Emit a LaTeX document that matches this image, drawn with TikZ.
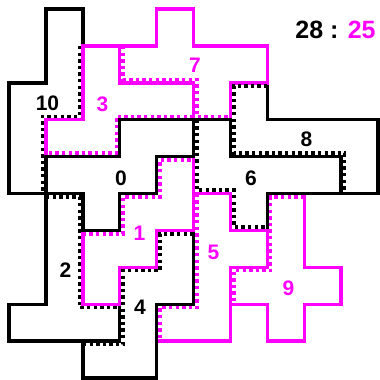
\documentclass[tikz,border=0pt]{standalone}
\usepackage{fontspec}
\setmainfont{Liberation Sans}
\definecolor{mag}{RGB}{255,0,255}
\tikzset{
  solidK/.style={draw=black, line width=3.4pt, line join=miter},
  solidM/.style={draw=mag, line width=3.4pt, line join=miter},
  dotK/.style={draw=black, line width=3.6pt, dash pattern=on 3.4pt off 3.2pt},
  dotM/.style={draw=mag, line width=3.6pt, dash pattern=on 3.4pt off 3.2pt},
  lbl/.style={font=\bfseries\fontsize{21}{21}\selectfont, inner sep=0pt},
  lblK/.style={lbl, text=black},
  lblM/.style={lbl, text=mag},
  scorestyle/.style={font=\bfseries\fontsize{25}{25}\selectfont, inner sep=0pt}
}
\begin{document}
\begin{tikzpicture}[x=36.9pt, y=-36.9pt]
\useasboundingbox (-9pt,9pt) rectangle (371pt,-371pt);
% solid outlines, in stacking order
\draw[solidM] (7,5)--(8,5)--(8,7)--(9,7)--(9,8)--(8,8)--(8,9)--(7,9)--(7,8)--(6,8)--(6,7)--(7,7)--cycle; % 9
\draw[solidK] (6,2)--(7,2)--(7,3)--(10,3)--(10,5)--(9,5)--(9,4)--(6,4)--cycle; % 8
\draw[solidM] (4,0)--(5,0)--(5,1)--(7,1)--(7,2)--(6,2)--(6,3)--(5,3)--(5,2)--(3,2)--(3,1)--(4,1)--cycle; % 7
\draw[solidK] (5,3)--(6,3)--(6,4)--(9,4)--(9,5)--(7,5)--(7,6)--(6,6)--(6,5)--(5,5)--cycle; % 6
\draw[solidM] (5,5)--(6,5)--(6,6)--(7,6)--(7,7)--(6,7)--(6,9)--(4,9)--(4,8)--(5,8)--cycle; % 5
\draw[solidK] (4,6)--(5,6)--(5,8)--(4,8)--(4,10)--(2,10)--(2,9)--(3,9)--(3,7)--(4,7)--cycle; % 4
\draw[solidK] (1,5)--(2,5)--(2,8)--(3,8)--(3,9)--(0,9)--(0,8)--(1,8)--cycle; % 2
\draw[solidM] (4,4)--(5,4)--(5,6)--(4,6)--(4,7)--(3,7)--(3,8)--(2,8)--(2,6)--(3,6)--(3,5)--(4,5)--cycle; % 1
\draw[solidK] (1,0)--(2,0)--(2,3)--(1,3)--(1,5)--(0,5)--(0,2)--(1,2)--cycle; % 10
\draw[solidM] (2,1)--(3,1)--(3,2)--(5,2)--(5,3)--(3,3)--(3,4)--(1,4)--(1,3)--(2,3)--cycle; % 3
\draw[solidK] (3,3)--(5,3)--(5,4)--(4,4)--(4,5)--(3,5)--(3,6)--(2,6)--(2,5)--(1,5)--(1,4)--(3,4)--cycle; % 0
% dotted shared borders
\draw[dotK] (1.908,1)--(1.908,2.908)--(0.908,2.908)--(0.908,5); % 10
\draw[dotM] (3.092,1)--(3.092,1.908)--(5.092,1.908)--(5.092,2.908)--(6,2.908); % 7
\draw[dotK] (7,2.092)--(6.092,2.092)--(6.092,3.908)--(9.092,3.908)--(9.092,5); % 8
\draw[dotK] (5.092,3)--(5.092,4.908)--(6.092,4.908)--(6.092,5.908)--(7,5.908); % 6
\draw[dotM] (8,5.092)--(7.092,5.092)--(7.092,7.092)--(6.092,7.092)--(6.092,8); % 9
\draw[dotM] (5.092,5)--(5.092,8.092)--(4.092,8.092)--(4.092,9); % 5
\draw[dotK] (5,6.092)--(4.092,6.092)--(4.092,7.092)--(3.092,7.092)--(3.092,9.092)--(2,9.092); % 4
\draw[dotK] (1,5.092)--(1.908,5.092)--(1.908,8.092)--(3,8.092); % 2
\draw[dotM] (2,6.092)--(3.092,6.092)--(3.092,5.092)--(4.092,5.092)--(4.092,4.092)--(5,4.092); % 1
\draw[dotM] (5,2.908)--(2.908,2.908)--(2.908,3.908)--(1,3.908); % 3
% labels
\node[lblK] (l10) at (38.5pt,-94.5pt) {10};
\node[lblM] (l3) at (93.5pt,-95pt) {3};
\node[lblM] (l7) at (186pt,-56pt) {7};
\node[lblK] (l0) at (112pt,-169pt) {0};
\node[lblK] (l8) at (297.5pt,-130.5pt) {8};
\node[lblK] (l6) at (242pt,-169pt) {6};
\node[lblM] (l1) at (130.5pt,-224.5pt) {1};
\node[lblK] (l2) at (56.5pt,-261pt) {2};
\node[lblM] (l5) at (204.5pt,-243.5pt) {5};
\node[lblK] (l4) at (131pt,-298.5pt) {4};
\node[lblM] (l9) at (279.5pt,-279.5pt) {9};
\node[scorestyle] (score) at (326.5pt,-21pt) {28 : \textcolor{mag}{25}};
\end{tikzpicture}
\end{document}
